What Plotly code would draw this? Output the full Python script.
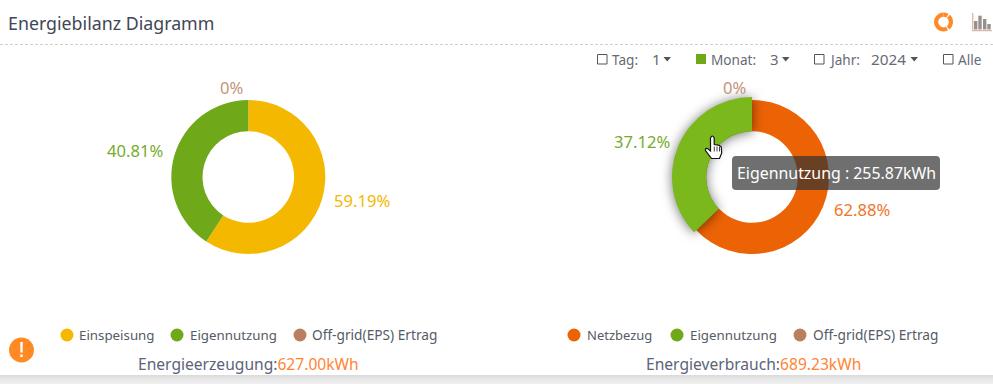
import plotly.graph_objects as go

W, H = 993, 384
FONT = "Noto Sans"

# data
gen_labels = ["Einspeisung", "Eigennutzung", "Off-grid(EPS) Ertrag"]
gen_values = [371.13, 255.87, 0]
gen_colors = ["#f5b800", "#6fa819", "#b97f5f"]
gen_pct = ["59.19%", "40.81%", "0%"]
gen_total = "627.00kWh"

use_labels = ["Netzbezug", "Eigennutzung", "Off-grid(EPS) Ertrag"]
use_values = [433.36, 255.87, 0]
use_colors = ["#ec6305", "#6fa819", "#b97f5f"]
use_pct = ["62.88%", "37.12%", "0%"]
use_total = "689.23kWh"

hover_color = "#7ab81c"
tooltip_text = "Eigennutzung : 255.87kWh"

fig = go.Figure()


def dom(cx, cy, r):
    return dict(x=[(cx - r) / W, (cx + r) / W], y=[1 - (cy + r) / H, 1 - (cy - r) / H])


def pie(labels, values, colors, cx, cy, r, hole, name):
    fig.add_trace(go.Pie(labels=labels, values=values, domain=dom(cx, cy, r), hole=hole,
                         sort=False, direction="clockwise", rotation=0, textinfo="none",
                         hoverinfo="skip", showlegend=False, name=name,
                         marker=dict(colors=colors, line=dict(width=0))))


pie(gen_labels, gen_values, gen_colors, 248.3, 177, 77, 0.595, "gen")
pie(use_labels, use_values, use_colors, 752, 177, 77, 0.595, "use")
pie(use_labels, use_values, ["rgba(0,0,0,0)", hover_color, "rgba(0,0,0,0)"], 752, 177, 80, 0.5725, "use-hover")
pie(["a", "b", "c", "d", "e"], [9, 2.5, 28, 2.5, 58],
    ["#ff8a25", "rgba(0,0,0,0)", "#ff8a25", "rgba(0,0,0,0)", "#ff8a25"], 943.5, 22, 9.5, 0.56, "icon")

shapes, ann = [], []


def text(x, y, s, size=13, color="#555b66", anchor="left", **kw):
    ann.append(dict(x=x, y=y, xref="x", yref="y", text=s, showarrow=False, xanchor=anchor, yanchor="middle",
                    font=dict(family=FONT, size=size, color=color), **kw))


def rect(x0, y0, x1, y1, fill, line=None, lw=0, layer="above"):
    shapes.append(dict(type="rect", xref="x", yref="y", x0=x0, y0=y0, x1=x1, y1=y1, fillcolor=fill,
                       line=dict(color=line or fill, width=lw), layer=layer))


def circle(cx, cy, r, fill):
    shapes.append(dict(type="circle", xref="x", yref="y", x0=cx - r, y0=cy - r, x1=cx + r, y1=cy + r,
                       fillcolor=fill, line=dict(width=0), layer="above"))


def path(d, fill="rgba(0,0,0,0)", line="rgba(0,0,0,0)", lw=0, layer="above"):
    shapes.append(dict(type="path", xref="x", yref="y", path=d, fillcolor=fill,
                       line=dict(color=line, width=lw), layer=layer))


# card and its soft shadow below
for i, col in enumerate(["#dcdcdc", "#dfdfdf", "#e2e2e2", "#e5e5e5", "#e8e8e8", "#eaeaea", "#ececec", "#eeeeee", "#f0f0f0"]):
    rect(0, 375 + i, W, 376 + i, col, layer="below")
path(f"M0 0 L{W} 0 L{W} 375 L9 375 Q2 375 0 371 Z", fill="#ffffff", layer="below")

# header
text(6, 22.5, "Energiebilanz Diagramm", size=17.8, color="#3f4656")
shapes.append(dict(type="line", xref="x", yref="y", x0=0, x1=W, y0=44.5, y1=44.5,
                   line=dict(color="#cfcfcf", width=1, dash="3px,2px"), layer="above"))

# bar icon
path("M972.7 13 L972.7 30.7 L992 30.7", line="#d9b8a8", lw=1.3)
for x0, top in [(974, 21), (978.3, 15.7), (983, 19), (987.3, 24)]:
    rect(x0, top, x0 + 3.4, 29.5, "#998f8f")

# filters
TXT = "#666b73"
for x0 in (597.5, 814.5, 943.5):
    rect(x0, 54.5, x0 + 9.5, 64, "#ffffff", line="#555555", lw=1)
rect(696, 54, 706, 64, "#6fa819")
text(610, 59, "Tag:", 13.6, TXT)
text(650, 59, "1", 15, TXT)
text(709, 59, "Monat:", 13.6, TXT)
text(768, 59, "3", 15, TXT)
text(827, 59, "Jahr:", 13.6, TXT)
text(869, 59, "2024", 15.3, TXT)
text(956, 59, "Alle", 13.6, TXT)
for x0 in (663.5, 782, 910.5):
    path(f"M{x0} 57 L{x0 + 7.5} 57 L{x0 + 3.75} 61.5 Z", fill="#555555")

# percentage labels
for pos, s, c in zip([(361.5, 200.5), (135, 150.5), (231, 87.5)], gen_pct, ["#f5b800", "#76ab2b", "#c4937a"]):
    text(pos[0], pos[1], s, 16.6, c, "center")
for pos, s, c in zip([(862, 209.5), (642, 141.5), (734, 87.5)], use_pct, ["#f0742a", "#76ab2b", "#c4937a"]):
    text(pos[0], pos[1], s, 16.6, c, "center")

# legends
for cx, tx, s, c, sz in zip([67, 177, 300], [77, 188, 310], gen_labels, gen_colors, [13.3, 13.3, 13.7]):
    circle(cx, 335, 6.5, c)
    text(tx, 334.5, s, sz)
for cx, tx, s, c, sz in zip([574, 677, 800], [585, 688, 811], use_labels, use_colors, [13.0, 13.3, 13.7]):
    circle(cx, 335, 6.5, c)
    text(tx, 334.5, s, sz)

# totals
NAVY = "#5a6478"
ORG = "#ff8533"
text(136, 364, f"Energieerzeugung:<span style='color:{ORG}'>{gen_total}</span>", 15.6, NAVY)
text(644, 364, f"Energieverbrauch:<span style='color:{ORG}'>{use_total}</span>", 15.6, NAVY)

# notice badge
circle(21.5, 350, 12.5, "#ff8a25")
rect(20.3, 342, 22.7, 352.5, "#ffffff")
rect(20.3, 354.5, 22.7, 357, "#ffffff")

# tooltip
path("M736 156 L936 156 Q940 156 940 160 L940 186 Q940 190 936 190 L736 190 Q732 190 732 186 L732 160 Q732 156 736 156 Z",
     fill="rgba(50,50,50,0.7)")
text(836, 173, tooltip_text, 15.9, "#ffffff", "center")

# hand cursor
path("M710.5 138 Q712.3 134 714.2 138 L714.2 144.5 L717 144.8 L719.5 145.5 L721.3 147 L721.7 153 L719.5 158.5 "
     "L711.5 158.5 L705.5 150.5 Q705 148 707.5 148.5 L710.5 151 Z", fill="#ffffff", line="#111111", lw=1.2)
for x in (714.3, 717, 719.5):
    path(f"M{x} 146.5 L{x} 151.5", line="#111111", lw=0.8)

fig.update_layout(width=W, height=H, margin=dict(l=0, r=0, t=0, b=0), paper_bgcolor="#ffffff",
                  plot_bgcolor="rgba(0,0,0,0)", shapes=shapes, annotations=ann, showlegend=False,
                  xaxis=dict(visible=False, range=[0, W], fixedrange=True, domain=[0, 1]),
                  yaxis=dict(visible=False, range=[H, 0], fixedrange=True, domain=[0, 1]))
fig.add_trace(go.Scatter(x=[0], y=[0], mode="markers", marker=dict(opacity=0), hoverinfo="skip", showlegend=False))

post = """
document.body.style.margin='0';
var t=document.querySelectorAll('.pielayer .trace');
if(t[2]){t[2].style.filter='drop-shadow(0 1px 6px rgba(0,0,0,0.55))';}
"""
fig.write_html("out.html", post_script=post, config={"displayModeBar": False})
